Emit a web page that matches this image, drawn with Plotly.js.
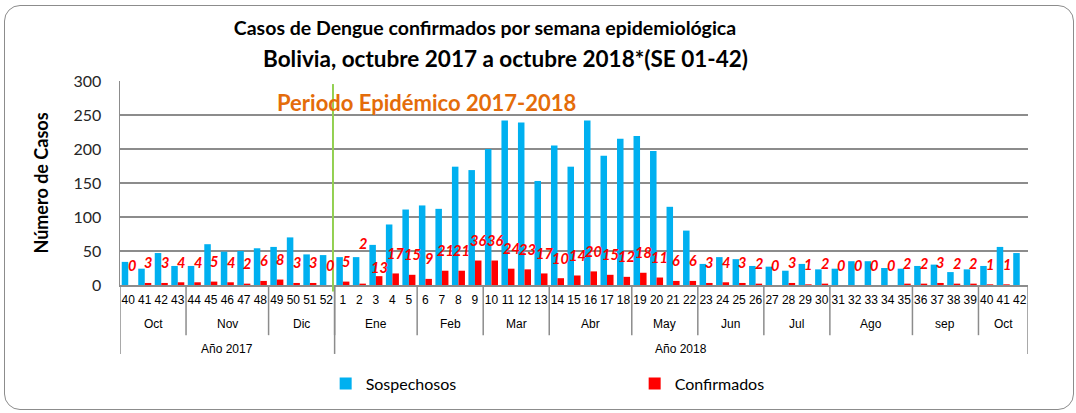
<!DOCTYPE html>
<html>
<head>
<meta charset="utf-8">
<script src="https://cdn.plot.ly/plotly-3.0.1.min.js"></script>
<style>
  html, body { margin: 0; padding: 0; background: #fff; }
  #chart { width: 1076px; height: 413px; }
  #frame { position: absolute; left: 4px; top: 5px; width: 1068px; height: 403px;
           border: 1.5px solid #8c8c8c; border-radius: 16px; pointer-events: none; }
</style>
</head>
<body>
<div id="chart"></div>
<div id="frame"></div>
<script>
// ---- data ----
const weeks = ['40','41','42','43','44','45','46','47','48','49','50','51','52',
  '1','2','3','4','5','6','7','8','9','10','11','12','13','14','15','16','17','18','19','20','21',
  '22','23','24','25','26','27','28','29','30','31','32','33','34','35','36','37','38','39','40','41','42'];
const sospechosos = [34,24,47,28,28,60,49,50,54,56,70,45,44,
  41,41,59,89,111,117,112,174,169,200,242,239,153,205,174,242,190,215,219,197,115,
  80,31,41,38,28,27,21,31,23,24,35,35,25,24,28,30,19,23,28,56,47];
const confirmados = [0,3,3,4,4,5,4,2,6,8,3,3,0,
  5,2,13,17,15,9,21,21,36,36,24,23,17,10,14,20,15,12,18,11,6,
  6,3,4,3,2,0,3,1,2,0,0,0,0,2,2,3,2,2,1,1,null];
const monthNames = ['Oct','Nov','Dic','Ene','Feb','Mar','Abr','May','Jun','Jul','Ago','sep','Oct'];
const monthWeeks = [4,5,4,5,4,4,5,4,4,4,5,4,3];
const yearNames = ['Año 2017','Año 2018'];
const yearWeeks = [13,42];

// ---- chart ----
const idx = weeks.map((_, i) => i);
const BLUE = '#00B0F0', RED = '#FF0000', GRID = '#8c8c8c';
const bargap = 0.21;
const halfBar = (1 - bargap) / 4;

const traces = [
  { type: 'bar', name: 'Sospechosos', x: idx, y: sospechosos, marker: { color: BLUE }, hoverinfo: 'x+y' },
  { type: 'bar', name: 'Confirmados', x: idx, y: confirmados, marker: { color: RED }, hoverinfo: 'x+y' }
];

const shapes = [];
const annotations = [];
const axisBottomMonth = -0.246, axisBottomYear = -0.338;

// month separators + labels
let pos = 0;
monthNames.forEach((m, k) => {
  const start = pos, end = pos + monthWeeks[k];
  annotations.push({ xref: 'x', yref: 'paper', x: (start + end - 1) / 2, y: -0.192, text: m,
    showarrow: false, xanchor: 'center', yanchor: 'middle',
    font: { family: 'Liberation Sans, Arial', size: 12, color: '#000' } });
  if (k > 0) shapes.push({ type: 'line', xref: 'x', yref: 'paper', x0: start - 0.5, x1: start - 0.5,
    y0: 0, y1: axisBottomMonth, line: { color: GRID, width: 1.5 } });
  pos = end;
});
// year separators + labels
pos = 0;
yearNames.forEach((yName, k) => {
  const start = pos, end = pos + yearWeeks[k];
  annotations.push({ xref: 'x', yref: 'paper', x: (start + end - 1) / 2, y: -0.316, text: yName,
    showarrow: false, xanchor: 'center', yanchor: 'middle',
    font: { family: 'Liberation Sans, Arial', size: 12, color: '#000' } });
  shapes.push({ type: 'line', xref: 'x', yref: 'paper', x0: start - 0.5, x1: start - 0.5,
    y0: 0, y1: axisBottomYear, line: { color: GRID, width: 1.5 } });
  pos = end;
});
shapes.push({ type: 'line', xref: 'x', yref: 'paper', x0: weeks.length - 0.5, x1: weeks.length - 0.5,
  y0: 0, y1: axisBottomYear, line: { color: GRID, width: 1.5 } });

// epidemic period marker
shapes.push({ type: 'line', xref: 'x', yref: 'paper', x0: 12.4, x1: 12.4, y0: 0.985, y1: -0.032,
  line: { color: '#92D050', width: 2 } });

// red value labels
const labelShift = { 14: 40, 15: 9 };
confirmados.forEach((v, i) => {
  if (v === null) return;
  annotations.push({ xref: 'x', yref: 'y', x: i + halfBar, y: v, text: '<b><i>' + v + '</i></b>',
    showarrow: false, xanchor: 'center', yanchor: 'middle',
    yshift: labelShift[i] !== undefined ? labelShift[i] : 20,
    font: { family: 'Lato, Open Sans, sans-serif', size: 14.5, color: RED } });
});

// period text and second title line
annotations.push({ xref: 'paper', yref: 'paper', x: 0.338, y: 0.893, text: '<b>Periodo Epidémico 2017-2018</b>',
  showarrow: false, xanchor: 'center', yanchor: 'middle',
  font: { family: 'Lato, Open Sans, sans-serif', size: 22, color: '#E46C0A' } });
annotations.push({ xref: 'paper', yref: 'paper', x: (505 - 120) / 908, y: (287.3 - 58) / 206.3,
  text: '<b>Bolivia, octubre 2017 a octubre 2018*(SE 01-42)</b>',
  showarrow: false, xanchor: 'center', yanchor: 'middle',
  font: { family: 'Lato, Open Sans, sans-serif', size: 22.5, color: '#000' } });

const layout = {
  width: 1076, height: 413,
  margin: { l: 120, r: 48, t: 81, b: 126 },
  paper_bgcolor: '#fff', plot_bgcolor: '#fff',
  barmode: 'group', bargap: bargap, bargroupgap: 0,
  title: { text: '<b>Casos de Dengue confirmados por semana epidemiológica</b>',
    xref: 'container', yref: 'container', x: 485 / 1076, y: 1 - 28 / 413,
    xanchor: 'center', yanchor: 'middle',
    font: { family: 'Lato, Open Sans, sans-serif', size: 19.5, color: '#000' } },
  xaxis: {
    range: [-0.5, weeks.length - 0.5], tickmode: 'array', tickvals: idx, ticktext: weeks,
    showline: true, linecolor: GRID, linewidth: 1.5, showgrid: false, zeroline: false,
    ticks: '', tickangle: 0, ticklabelstandoff: 3,
    tickfont: { family: 'Liberation Sans, Arial', size: 12, color: '#000' }
  },
  yaxis: {
    range: [0, 300], dtick: 50, showline: true, linecolor: GRID, linewidth: 1.5,
    showgrid: true, gridcolor: GRID, gridwidth: 1.5, zeroline: false, ticks: '',
    ticklabelstandoff: 14,
    tickfont: { family: 'Lato, Open Sans, sans-serif', size: 16, color: '#262626' },
    title: { text: '<b>Número de Casos</b>', standoff: 20,
      font: { family: 'Lato, Open Sans, sans-serif', size: 18, color: '#000' } }
  },
  showlegend: true,
  legend: { orientation: 'h', x: 0.2265, xanchor: 'left', y: -0.483, yanchor: 'middle',
    entrywidth: 264, entrywidthmode: 'pixels', traceorder: 'normal',
    font: { family: 'Lato, Open Sans, sans-serif', size: 16, color: '#000' } },
  shapes: shapes,
  annotations: annotations
};

Plotly.newPlot('chart', traces, layout, { displayModeBar: false, staticPlot: true });
</script>
</body>
</html>
